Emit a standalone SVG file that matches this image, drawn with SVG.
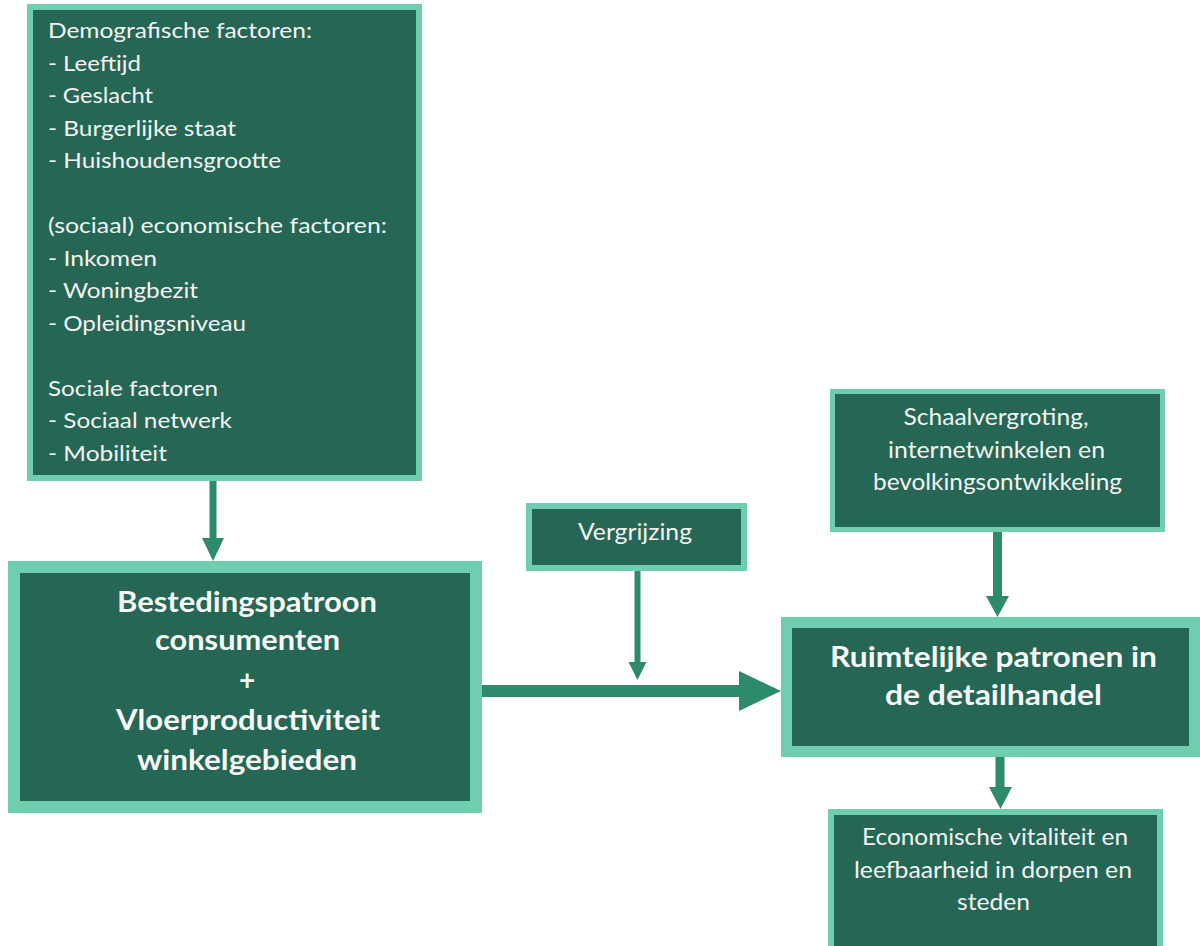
<svg xmlns="http://www.w3.org/2000/svg" width="1200" height="946" viewBox="0 0 1200 946">
<defs>
<style>
.box{fill:#256654;stroke:#6fcdb0;}
.t{font-family:Lato,"Liberation Sans",sans-serif;fill:#f2f2f2;font-size:21px;}
.c{text-anchor:middle;}
.b{font-family:Lato,"Liberation Sans",sans-serif;fill:#f7f7f7;font-size:28px;font-weight:bold;text-anchor:middle;}
.arr{fill:#2e8a6d;}
</style>
</defs>
<rect width="1200" height="946" fill="#ffffff"/>
<g id="connectors">
<rect class="arr" x="209.5" y="478" width="7" height="61"/>
<polygon class="arr" points="202,538 224,538 213,561"/>
<rect class="arr" x="634.5" y="568" width="6" height="95"/>
<polygon class="arr" points="628.5,662 646.5,662 637.5,680"/>
<rect class="arr" x="482" y="685" width="258" height="12"/>
<polygon class="arr" points="739,671 739,711 781,691"/>
<rect class="arr" x="993" y="530" width="9" height="67"/>
<polygon class="arr" points="986,596 1009,596 997.5,617"/>
<rect class="arr" x="995.5" y="755" width="9" height="33"/>
<polygon class="arr" points="989,787 1012,787 1000.5,809"/>
</g>
<g id="factoren">
<rect class="box" x="30" y="7" width="389" height="471" stroke-width="6"/>
<text class="t" x="48" y="38.3" textLength="264" lengthAdjust="spacingAndGlyphs">Demografische factoren:</text>
<text class="t" x="48" y="70.8" textLength="93" lengthAdjust="spacingAndGlyphs">- Leeftijd</text>
<text class="t" x="48" y="103.3" textLength="105" lengthAdjust="spacingAndGlyphs">- Geslacht</text>
<text class="t" x="48" y="135.8" textLength="188" lengthAdjust="spacingAndGlyphs">- Burgerlijke staat</text>
<text class="t" x="48" y="168.3" textLength="233" lengthAdjust="spacingAndGlyphs">- Huishoudensgrootte</text>
<text class="t" x="48" y="233.3" textLength="339" lengthAdjust="spacingAndGlyphs">(sociaal) economische factoren:</text>
<text class="t" x="48" y="265.8" textLength="109" lengthAdjust="spacingAndGlyphs">- Inkomen</text>
<text class="t" x="48" y="298.3" textLength="150" lengthAdjust="spacingAndGlyphs">- Woningbezit</text>
<text class="t" x="48" y="330.8" textLength="198" lengthAdjust="spacingAndGlyphs">- Opleidingsniveau</text>
<text class="t" x="48" y="395.8" textLength="170" lengthAdjust="spacingAndGlyphs">Sociale factoren</text>
<text class="t" x="48" y="428.3" textLength="184" lengthAdjust="spacingAndGlyphs">- Sociaal netwerk</text>
<text class="t" x="48" y="460.8" textLength="119" lengthAdjust="spacingAndGlyphs">- Mobiliteit</text>
</g>
<g id="bestedingspatroon">
<rect class="box" x="14" y="567" width="462" height="240" stroke-width="12"/>
<text class="b" x="247" y="611.7" textLength="260" lengthAdjust="spacingAndGlyphs">Bestedingspatroon</text>
<text class="b" x="247.5" y="650" textLength="185" lengthAdjust="spacingAndGlyphs">consumenten</text>
<text class="b" x="247" y="690">+</text>
<text class="b" x="248" y="730" textLength="264" lengthAdjust="spacingAndGlyphs">Vloerproductiviteit</text>
<text class="b" x="247" y="770" textLength="220" lengthAdjust="spacingAndGlyphs">winkelgebieden</text>
</g>
<g id="vergrijzing">
<rect class="box" x="529" y="506" width="215" height="62" stroke-width="6"/>
<text class="t c" x="635" y="540" textLength="114" lengthAdjust="spacingAndGlyphs" style="font-size:23px">Vergrijzing</text>
</g>
<g id="schaalvergroting">
<rect class="box" x="832.5" y="391.5" width="330" height="138" stroke-width="5"/>
<text class="t c" x="996" y="425" textLength="185" lengthAdjust="spacingAndGlyphs" style="font-size:23px">Schaalvergroting,</text>
<text class="t c" x="996.5" y="457.5" textLength="217" lengthAdjust="spacingAndGlyphs" style="font-size:23px">internetwinkelen en</text>
<text class="t c" x="997.5" y="490" textLength="249" lengthAdjust="spacingAndGlyphs" style="font-size:23px">bevolkingsontwikkeling</text>
</g>
<g id="ruimtelijke">
<rect class="box" x="786.5" y="622.5" width="408" height="129" stroke-width="11"/>
<text class="b" x="993.5" y="666.7" textLength="327" lengthAdjust="spacingAndGlyphs">Ruimtelijke patronen in</text>
<text class="b" x="993.5" y="705" textLength="217" lengthAdjust="spacingAndGlyphs">de detailhandel</text>
</g>
<g id="economische">
<rect class="box" x="831" y="812" width="329" height="150" stroke-width="6"/>
<text class="t c" x="995" y="845" textLength="266" lengthAdjust="spacingAndGlyphs" style="font-size:23px">Economische vitaliteit en</text>
<text class="t c" x="993" y="877.5" textLength="278" lengthAdjust="spacingAndGlyphs" style="font-size:23px">leefbaarheid in dorpen en</text>
<text class="t c" x="993.5" y="910" textLength="73" lengthAdjust="spacingAndGlyphs" style="font-size:23px">steden</text>
</g>
</svg>
